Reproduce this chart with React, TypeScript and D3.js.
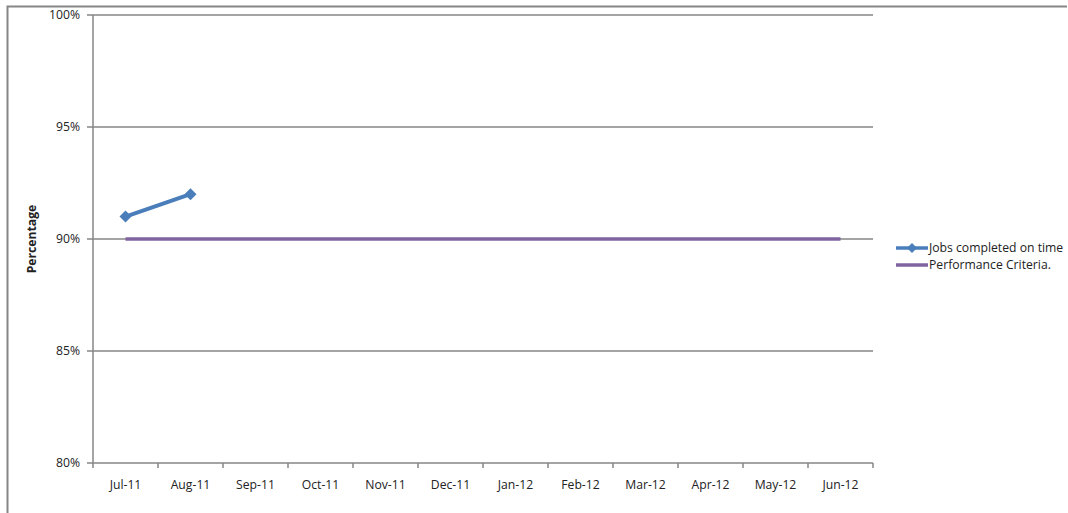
import React from "react";
import * as d3 from "d3";

const categories = ["Jul-11","Aug-11","Sep-11","Oct-11","Nov-11","Dec-11","Jan-12","Feb-12","Mar-12","Apr-12","May-12","Jun-12"];
const jobsOnTime: (number | null)[] = [0.91, 0.92, null, null, null, null, null, null, null, null, null, null];
const performanceCriteria = [0.9, 0.9, 0.9, 0.9, 0.9, 0.9, 0.9, 0.9, 0.9, 0.9, 0.9, 0.9];
const yTicks = [0.8, 0.85, 0.9, 0.95, 1.0];

const W = 1068, H = 513;
const left = 93, right = 873, top = 15, bottom = 463;
const FONT = "'Open Sans', sans-serif";
const GRID = "#868686";
const BLUE = "#4A7EBB";
const PURPLE = "#8064A2";
const FS = 12.2;

export default function App() {
  const x = d3.scaleBand<string>().domain(categories).range([left, right]);
  const y = d3.scaleLinear().domain([0.8, 1.0]).range([bottom, top]);
  const cx = (c: string) => (x(c) ?? 0) + x.bandwidth() / 2;
  const fmt = d3.format(".0%");

  const jobsLine = d3.line<number | null>()
    .defined((d) => d !== null)
    .x((_, i) => cx(categories[i]))
    .y((d) => y(d as number));
  const perfLine = d3.line<number>()
    .x((_, i) => cx(categories[i]))
    .y((d) => y(d));

  const diamond = (px: number, py: number, r: number) =>
    `M${px},${py - r}L${px + r},${py}L${px},${py + r}L${px - r},${py}Z`;

  const tickEdges = [...categories.map((c) => x(c) ?? 0), right];

  return (
    <svg width={W} height={H} style={{ position: "absolute", left: 0, top: 0, background: "#fff" }} fontFamily={FONT}>
      <rect x={0} y={0} width={W} height={H} fill="#fff" />
      {/* outer border */}
      <path d={`M7.5,${H}V6.5H${W - 1}`} fill="none" stroke={GRID} strokeWidth={2} />
      {/* gridlines */}
      {yTicks.map((t) => (
        <g key={t}>
          <line x1={left - 6} x2={t === 0.8 ? left : right} y1={y(t)} y2={y(t)} stroke={GRID} strokeWidth={1.5} />
          <text x={left - 13} y={y(t)} dy="0.35em" textAnchor="end" fontSize={FS} fill="#222">{fmt(t)}</text>
        </g>
      ))}
      {/* x axis */}
      <line x1={left} x2={right} y1={bottom} y2={bottom} stroke={GRID} strokeWidth={1.5} />
      {tickEdges.map((e, i) => (
        <line key={i} x1={e} x2={e} y1={bottom} y2={bottom + 5} stroke={GRID} strokeWidth={1.5} />
      ))}
      {/* y axis */}
      <line x1={left} x2={left} y1={top} y2={bottom} stroke={GRID} strokeWidth={1.5} />
      {categories.map((c) => (
        <text key={c} x={cx(c)} y={bottom + 26} textAnchor="middle" fontSize={FS} fill="#222">{c}</text>
      ))}
      <text transform={`translate(36,${(top + bottom) / 2}) rotate(-90)`} textAnchor="middle" fontSize={FS} fontWeight="bold" fill="#222">Percentage</text>
      {/* series */}
      <path d={perfLine(performanceCriteria) ?? ""} fill="none" stroke={PURPLE} strokeWidth={3.5} />
      <path d={jobsLine(jobsOnTime) ?? ""} fill="none" stroke={BLUE} strokeWidth={4} />
      {jobsOnTime.map((v, i) => v === null ? null : (
        <path key={i} d={diamond(cx(categories[i]), y(v), 6)} fill={BLUE} />
      ))}
      {/* legend */}
      <line x1={896} x2={928} y1={248} y2={248} stroke={BLUE} strokeWidth={3.5} />
      <path d={diamond(912, 248, 5)} fill={BLUE} />
      <text x={929} y={248} dy="0.35em" fontSize={FS} fill="#222">Jobs completed on time</text>
      <line x1={896} x2={928} y1={265} y2={265} stroke={PURPLE} strokeWidth={3.5} />
      <text x={929} y={265} dy="0.35em" fontSize={FS} fill="#222">Performance Criteria.</text>
    </svg>
  );
}
